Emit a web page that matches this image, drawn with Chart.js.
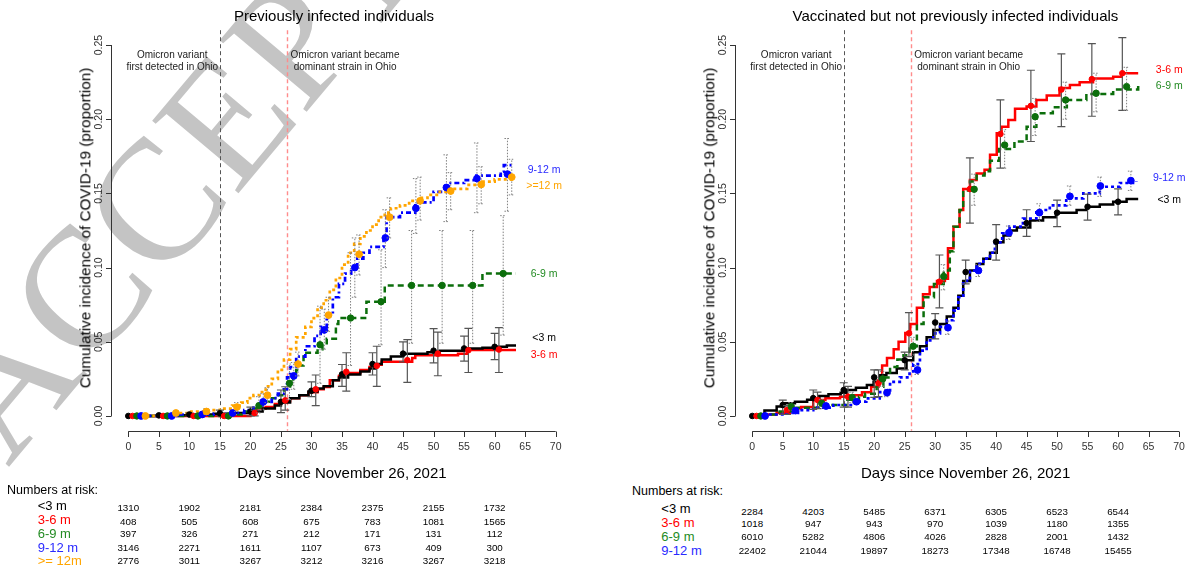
<!DOCTYPE html>
<html>
<head>
<meta charset="utf-8">
<title>Cumulative incidence of COVID-19</title>
<script src="https://cdn.jsdelivr.net/npm/chart.js@4.4.1/dist/chart.umd.min.js"></script>
<style>
  html, body { margin: 0; padding: 0; background: #fff; }
  body { position: relative; width: 1190px; height: 565px; overflow: hidden;
         font-family: "Liberation Sans", Arial, sans-serif; color: #000; }
  #wm { position: absolute; left: 0; top: 0; z-index: 0; }
  canvas { position: absolute; top: 0; z-index: 1; }
  #cPI { left: 0; }
  #cVX { left: 620px; }
  .lbl { position: absolute; z-index: 2; white-space: nowrap; line-height: 1; transform: translate(-50%, -50%); }
  .title { font-size: 15px; }
  .ytitle { font-size: 15.3px; transform: translate(-50%, -50%) rotate(-90deg); }
  .xtitle { font-size: 15px; }
  .note { font-size: 10px; color: #222; }
  .end { font-size: 10.5px; }
  .risk-h { font-size: 12.5px; transform: translate(0, -50%); }
  .risk-g { font-size: 13px; transform: translate(0, -50%); }
  .risk-n { font-size: 9.8px; }
</style>
</head>
<body>
<svg id="wm" width="1190" height="565">
  <text x="8" y="468" transform="rotate(-50 8 468)" font-family="Liberation Serif" font-size="172" fill="#c4c4c4">ACCEPTED</text>
</svg>
<canvas id="cPI" width="595" height="470"></canvas>
<canvas id="cVX" width="600" height="470"></canvas>
<script>
// axis ticks and reference lines
const xTicks = [0, 5, 10, 15, 20, 25, 30, 35, 40, 45, 50, 55, 60, 65, 70];
const yTicks = [0, 0.05, 0.10, 0.15, 0.20, 0.25];
const yTickLabels = ['0.00', '0.05', '0.10', '0.15', '0.20', '0.25'];
const eventDays = [15, 26];
const riskDays = [0, 10, 20, 30, 40, 50, 60];

// ---- Previously infected individuals ----
const piLt3StepX = [0, 5, 10, 14, 17, 20, 22, 24, 25, 26.5, 28, 29.5, 31, 32, 33.5, 34.5, 36, 38, 39.5, 40.5, 41.5, 43, 45, 49, 51, 55, 58, 60, 62, 63.5];
const piLt3StepY = [0, 0.0004, 0.001, 0.0015, 0.002, 0.003, 0.005, 0.007, 0.009, 0.012, 0.014, 0.0165, 0.0185, 0.020, 0.024, 0.026, 0.028, 0.030, 0.032, 0.035, 0.038, 0.040, 0.042, 0.043, 0.044, 0.0455, 0.046, 0.0466, 0.0475, 0.0475];
const piLt3PtX = [0, 5, 10, 15, 20, 25, 30, 35, 40, 45, 50, 55, 60];
const piLt3PtY = [0, 0.0004, 0.001, 0.0018, 0.003, 0.0095, 0.017, 0.028, 0.035, 0.042, 0.044, 0.0455, 0.0466];
const piLt3Lo = [0, 0, 0, 0, 0, 0.0022, 0.013, 0.020, 0.0276, 0.0365, 0.0358, 0.037, 0.038];
const piLt3Hi = [0, 0.001, 0.002, 0.004, 0.006, 0.0175, 0.023, 0.0347, 0.0426, 0.050, 0.0589, 0.0538, 0.0556];

const pi36StepX = [0, 20, 21, 22.5, 24, 25, 26.5, 28, 29.5, 31, 32, 33, 34.5, 35.5, 38, 39.5, 40.5, 41.5, 46.5, 47, 54, 55.5, 63.5];
const pi36StepY = [0, 0.003, 0.005, 0.006, 0.008, 0.010, 0.012, 0.014, 0.016, 0.018, 0.0195, 0.024, 0.027, 0.029, 0.031, 0.033, 0.0345, 0.0365, 0.039, 0.041, 0.042, 0.0445, 0.0445];
const pi36PtX = [0.7, 5.7, 10.7, 15.7, 20.7, 25.7, 30.7, 35.7, 40.7, 45.7, 50.7, 55.7, 60.7];
const pi36PtY = [0, 0, 0, 0, 0.002, 0.0105, 0.018, 0.0298, 0.0338, 0.0376, 0.042, 0.0443, 0.0448];
const pi36Lo = [0, 0, 0, 0, 0, 0.004, 0.007, 0.0168, 0.020, 0.0226, 0.0271, 0.0293, 0.0293];
const pi36Hi = [0, 0, 0, 0, 0.004, 0.0197, 0.0276, 0.0426, 0.047, 0.0515, 0.0565, 0.059, 0.0596];

const pi69StepX = [0, 16, 19, 20.5, 21.5, 22.5, 23.5, 24.5, 25.5, 26.5, 27, 27.5, 28, 28.7, 31, 31.8, 32.5, 34, 34.4, 39, 42, 58, 63.5];
const pi69StepY = [0, 0.001, 0.003, 0.005, 0.0075, 0.0095, 0.012, 0.014, 0.018, 0.022, 0.026, 0.031, 0.034, 0.0426, 0.045, 0.048, 0.052, 0.062, 0.066, 0.077, 0.088, 0.096, 0.096];
const pi69PtX = [1.4, 6.4, 11.4, 16.4, 21.4, 26.4, 31.4, 36.4, 41.4, 46.4, 51.4, 56.4, 61.4];
const pi69PtY = [0, 0, 0, 0, 0.007, 0.022, 0.048, 0.066, 0.077, 0.088, 0.088, 0.088, 0.096];
const pi69Lo = [0, 0, 0, 0, 0.002, 0.011, 0.022, 0.034, 0.048, 0.049, 0.049, 0.049, 0.0545];
const pi69Hi = [0, 0, 0.001, 0.002, 0.013, 0.035, 0.074, 0.110, 0.112, 0.125, 0.125, 0.125, 0.135];

const pi912StepX = [0, 8, 14, 17, 19, 20.5, 22, 23.5, 24.5, 25.5, 26, 26.5, 27.5, 29, 30.5, 31.5, 32.5, 33.5, 34.5, 35.5, 36.5, 37.5, 38.5, 39.5, 41.8, 42.3, 44.5, 47, 50, 52.5, 55, 57, 61, 61.5, 63];
const pi912StepY = [0, 0.001, 0.0015, 0.002, 0.004, 0.007, 0.0095, 0.012, 0.015, 0.018, 0.026, 0.033, 0.040, 0.047, 0.054, 0.060, 0.068, 0.080, 0.089, 0.096, 0.100, 0.106, 0.110, 0.114, 0.119, 0.134, 0.137, 0.144, 0.151, 0.157, 0.159, 0.162, 0.1646, 0.169, 0.169];
const pi912PtX = [2.1, 7.1, 12.1, 17.1, 22.1, 27.1, 32.1, 37.1, 42.1, 47.1, 52.1, 57.1, 62.1];
const pi912PtY = [0, 0, 0.001, 0.002, 0.0095, 0.027, 0.058, 0.100, 0.120, 0.140, 0.154, 0.160, 0.163];
const pi912Lo = [0, 0, 0, 0, 0.004, 0.018, 0.045, 0.080, 0.100, 0.123, 0.131, 0.137, 0.138];
const pi912Hi = [0, 0.001, 0.002, 0.004, 0.015, 0.036, 0.072, 0.120, 0.139, 0.160, 0.176, 0.184, 0.187];

const pi12StepX = [0, 5, 7, 10, 13, 15, 17, 18.5, 19.5, 20.5, 21.5, 22.5, 23.5, 24.5, 25.5, 26.5, 27.5, 29, 30, 31, 32, 33, 34, 35, 36, 37, 38, 39, 40, 41, 42, 43, 44.5, 46, 47.5, 49, 51, 53, 55.5, 58, 60, 63];
const pi12StepY = [0, 0.001, 0.002, 0.003, 0.004, 0.005, 0.007, 0.009, 0.012, 0.014, 0.016, 0.020, 0.025, 0.031, 0.038, 0.045, 0.053, 0.060, 0.066, 0.073, 0.078, 0.085, 0.093, 0.102, 0.110, 0.116, 0.121, 0.125, 0.129, 0.134, 0.137, 0.140, 0.142, 0.145, 0.147, 0.149, 0.151, 0.153, 0.1557, 0.158, 0.1594, 0.161];
const pi12PtX = [2.8, 7.8, 12.8, 17.8, 22.8, 27.8, 32.8, 37.8, 42.8, 47.8, 52.8, 57.8, 62.8];
const pi12PtY = [0, 0.002, 0.003, 0.006, 0.014, 0.035, 0.068, 0.109, 0.134, 0.145, 0.1516, 0.156, 0.161];
const pi12Lo = [0, 0, 0.001, 0.003, 0.009, 0.027, 0.057, 0.095, 0.120, 0.132, 0.139, 0.143, 0.149];
const pi12Hi = [0, 0.003, 0.005, 0.009, 0.019, 0.043, 0.080, 0.122, 0.147, 0.161, 0.164, 0.168, 0.173];

const piRiskLt3 = [1310, 1902, 2181, 2384, 2375, 2155, 1732];
const piRisk36 = [408, 505, 608, 675, 783, 1081, 1565];
const piRisk69 = [397, 326, 271, 212, 171, 131, 112];
const piRisk912 = [3146, 2271, 1611, 1107, 673, 409, 300];
const piRisk12 = [2776, 3011, 3267, 3212, 3216, 3267, 3218];

// ---- Vaccinated but not previously infected individuals ----
const vxLt3StepX = [0, 2, 4, 5, 7, 9, 11, 12.5, 14.5, 15.5, 17, 18.8, 19.9, 21, 22, 23.7, 25.3, 26.4, 27.5, 28.6, 29.7, 30.8, 31.9, 33, 33.8, 34.6, 35.7, 36.8, 37.9, 39, 40.1, 41.2, 42.3, 43.4, 45.6, 47.7, 49.8, 53.2, 54.8, 57, 59.2, 61.4, 63.3];
const vxLt3StepY = [0, 0.0036, 0.0063, 0.0085, 0.0096, 0.011, 0.0134, 0.0146, 0.0157, 0.0175, 0.019, 0.0208, 0.023, 0.0275, 0.029, 0.032, 0.0376, 0.043, 0.047, 0.053, 0.058, 0.062, 0.067, 0.073, 0.081, 0.091, 0.098, 0.1025, 0.106, 0.110, 0.117, 0.1217, 0.125, 0.127, 0.1317, 0.134, 0.137, 0.1388, 0.141, 0.1425, 0.1444, 0.1462, 0.1462];
const vxLt3PtX = [0, 5, 10, 15, 20, 25, 30, 35, 40, 45, 50, 55, 60];
const vxLt3PtY = [0, 0.0074, 0.012, 0.0175, 0.026, 0.0376, 0.063, 0.097, 0.1175, 0.130, 0.137, 0.141, 0.1444];
const vxLt3Lo = [0, 0.001, 0.0045, 0.006, 0.0125, 0.031, 0.052, 0.089, 0.105, 0.121, 0.1276, 0.132, 0.1355];
const vxLt3Hi = [0, 0.0107, 0.0175, 0.0224, 0.031, 0.043, 0.069, 0.105, 0.129, 0.139, 0.1455, 0.1495, 0.153];

const vx36StepX = [0, 1, 4, 6.2, 8, 10, 12, 14.4, 16.6, 18, 19.5, 20.7, 21.3, 22.1, 23.2, 24, 25.1, 25.9, 27, 28, 29.1, 30.3, 31.6, 32.1, 33, 34, 34.6, 35.7, 36.8, 38.1, 39, 40.1, 40.9, 42, 43.1, 45, 46.6, 48.3, 50.4, 52.1, 53.7, 55.9, 59.2, 60.6, 63.3];
const vx36StepY = [0, 0.001, 0.0022, 0.005, 0.006, 0.0108, 0.012, 0.013, 0.014, 0.016, 0.0197, 0.024, 0.034, 0.039, 0.045, 0.050, 0.056, 0.062, 0.073, 0.082, 0.087, 0.091, 0.0925, 0.113, 0.1276, 0.1388, 0.153, 0.159, 0.1635, 0.166, 0.176, 0.1905, 0.195, 0.1995, 0.207, 0.2085, 0.213, 0.216, 0.221, 0.223, 0.225, 0.2275, 0.2286, 0.231, 0.231];
const vx36PtX = [0.7, 5.7, 10.7, 15.7, 20.7, 25.7, 30.7, 35.7, 40.7, 45.7, 50.7, 55.7, 60.7];
const vx36PtY = [0, 0.004, 0.0108, 0.013, 0.022, 0.0557, 0.0905, 0.153, 0.190, 0.209, 0.220, 0.227, 0.231];
const vx36Lo = [0, 0.001, 0.005, 0.006, 0.013, 0.040, 0.0728, 0.130, 0.167, 0.185, 0.195, 0.202, 0.206];
const vx36Hi = [0, 0.007, 0.016, 0.020, 0.031, 0.0696, 0.1085, 0.174, 0.213, 0.233, 0.244, 0.251, 0.255];

const vx69StepX = [0, 1.5, 4.5, 7.3, 11.6, 15.6, 17.5, 18.5, 20.4, 21.5, 22.6, 23.8, 24.8, 25.8, 27, 28.1, 29.8, 31.4, 32.4, 33, 34, 34.6, 35.7, 36.8, 38.1, 39, 40.5, 43, 45, 46.6, 49.3, 51.6, 54.8, 59.2, 63.3];
const vx69StepY = [0, 0.001, 0.003, 0.0056, 0.0074, 0.011, 0.013, 0.015, 0.0197, 0.026, 0.033, 0.038, 0.041, 0.047, 0.062, 0.080, 0.089, 0.098, 0.111, 0.1276, 0.1388, 0.152, 0.158, 0.162, 0.165, 0.172, 0.180, 0.185, 0.195, 0.204, 0.208, 0.213, 0.217, 0.220, 0.223];
const vx69PtX = [1.4, 6.4, 11.4, 16.4, 21.4, 26.4, 31.4, 36.4, 41.4, 46.4, 51.4, 56.4, 61.4];
const vx69PtY = [0, 0.0063, 0.0085, 0.0125, 0.025, 0.047, 0.094, 0.1528, 0.1826, 0.2017, 0.213, 0.2175, 0.222];
const vx69Lo = [0, 0.004, 0.006, 0.009, 0.020, 0.041, 0.085, 0.142, 0.167, 0.189, 0.200, 0.205, 0.206];
const vx69Hi = [0, 0.009, 0.011, 0.016, 0.030, 0.053, 0.102, 0.163, 0.193, 0.214, 0.225, 0.231, 0.235];

const vx912StepX = [0, 2.5, 5.2, 7.5, 10, 13.3, 16.6, 18.7, 20.9, 22.6, 24.2, 25.8, 26.4, 27.5, 28.6, 29.7, 30.8, 31.9, 33, 33.8, 34.6, 35.7, 36.8, 37.9, 39, 39.8, 41, 42.2, 44.4, 46.6, 48.8, 51.5, 54.3, 57, 60.3, 63];
const vx912StepY = [0, 0.001, 0.002, 0.004, 0.0056, 0.0074, 0.0096, 0.0119, 0.016, 0.023, 0.026, 0.030, 0.035, 0.044, 0.051, 0.0556, 0.060, 0.0645, 0.071, 0.080, 0.091, 0.098, 0.1025, 0.106, 0.110, 0.117, 0.123, 0.1276, 0.133, 0.1388, 0.142, 0.1466, 0.150, 0.1545, 0.157, 0.158];
const vx912PtX = [2.1, 7.1, 12.1, 17.1, 22.1, 27.1, 32.1, 37.1, 42.1, 47.1, 52.1, 57.1, 62.1];
const vx912PtY = [0, 0.0036, 0.0067, 0.0096, 0.0157, 0.031, 0.0595, 0.098, 0.1235, 0.137, 0.148, 0.155, 0.1586];
const vx912Lo = [0, 0.002, 0.005, 0.008, 0.013, 0.028, 0.055, 0.094, 0.119, 0.131, 0.142, 0.148, 0.152];
const vx912Hi = [0, 0.005, 0.0085, 0.0115, 0.018, 0.034, 0.064, 0.102, 0.128, 0.143, 0.155, 0.161, 0.165];

const vxRiskLt3 = [2284, 4203, 5485, 6371, 6305, 6523, 6544];
const vxRisk36 = [1018, 947, 943, 970, 1039, 1180, 1355];
const vxRisk69 = [6010, 5282, 4806, 4026, 2828, 2001, 1432];
const vxRisk912 = [22402, 21044, 19897, 18273, 17348, 16748, 15455];

// colours
const BLACK = '#000000', RED = '#ff0000', GREEN = '#0b6e0b', BLUE = '#0000ff', ORANGE = '#ffa500';
const GREEN_TXT = '#238b23', BLUE_TXT = '#2a2aff';

const piSeries = [
  { name: '<3 m', color: BLACK, txt: BLACK, dash: [], width: 2.5, r: 2.8, solidBars: true, lineOrder: 8,
    stepX: piLt3StepX, stepY: piLt3StepY, ptX: piLt3PtX, ptY: piLt3PtY, lo: piLt3Lo, hi: piLt3Hi, risk: piRiskLt3, labelVal: 0.0532 },
  { name: '3-6 m', color: RED, txt: RED, dash: [], width: 2.5, r: 2.8, solidBars: true, lineOrder: 9,
    stepX: pi36StepX, stepY: pi36StepY, ptX: pi36PtX, ptY: pi36PtY, lo: pi36Lo, hi: pi36Hi, risk: piRisk36, labelVal: 0.0418 },
  { name: '6-9 m', color: GREEN, txt: GREEN_TXT, dash: [6, 4], width: 2.5, r: 3.2, solidBars: false, lineOrder: 7,
    stepX: pi69StepX, stepY: pi69StepY, ptX: pi69PtX, ptY: pi69PtY, lo: pi69Lo, hi: pi69Hi, risk: piRisk69, labelVal: 0.0964 },
  { name: '9-12 m', color: BLUE, txt: BLUE_TXT, dash: [5, 3, 2, 3], width: 2.7, r: 3.4, solidBars: false, lineOrder: 6,
    stepX: pi912StepX, stepY: pi912StepY, ptX: pi912PtX, ptY: pi912PtY, lo: pi912Lo, hi: pi912Hi, risk: piRisk912, labelVal: 0.1662 },
  { name: '>=12 m', rowName: '>= 12m', color: ORANGE, txt: ORANGE, dash: [3, 3], width: 2.7, r: 3.4, solidBars: false, lineOrder: 5,
    stepX: pi12StepX, stepY: pi12StepY, ptX: pi12PtX, ptY: pi12PtY, lo: pi12Lo, hi: pi12Hi, risk: piRisk12, labelVal: 0.1557 }
];

const vxSeries = [
  { name: '<3 m', color: BLACK, txt: BLACK, dash: [], width: 2.5, r: 2.8, solidBars: true, lineOrder: 8,
    stepX: vxLt3StepX, stepY: vxLt3StepY, ptX: vxLt3PtX, ptY: vxLt3PtY, lo: vxLt3Lo, hi: vxLt3Hi, risk: vxRiskLt3, labelVal: 0.1462 },
  { name: '3-6 m', color: RED, txt: RED, dash: [], width: 2.5, r: 2.8, solidBars: true, lineOrder: 9,
    stepX: vx36StepX, stepY: vx36StepY, ptX: vx36PtX, ptY: vx36PtY, lo: vx36Lo, hi: vx36Hi, risk: vxRisk36, labelVal: 0.2338 },
  { name: '6-9 m', color: GREEN, txt: GREEN_TXT, dash: [6, 4], width: 2.5, r: 3.2, solidBars: false, lineOrder: 7,
    stepX: vx69StepX, stepY: vx69StepY, ptX: vx69PtX, ptY: vx69PtY, lo: vx69Lo, hi: vx69Hi, risk: vxRisk69, labelVal: 0.2230 },
  { name: '9-12 m', color: BLUE, txt: BLUE_TXT, dash: [3, 3], width: 2.7, r: 3.4, solidBars: false, lineOrder: 6,
    stepX: vx912StepX, stepY: vx912StepY, ptX: vx912PtX, ptY: vx912PtY, lo: vx912Lo, hi: vx912Hi, risk: vxRisk912, labelVal: 0.1613 }
];

// draws R-style axes, the two reference lines and the error bars
const rStyle = {
  id: 'rStyle',
  beforeDatasetsDraw(chart) {
    const { ctx, chartArea, scales: { x, y } } = chart;
    ctx.save();
    eventDays.forEach((d, i) => {
      const px = Math.round(x.getPixelForValue(d)) + 0.5;
      ctx.beginPath();
      ctx.setLineDash([4, 3]);
      ctx.strokeStyle = i === 0 ? '#555' : '#ff8c8c';
      ctx.lineWidth = i === 0 ? 1 : 1.4;
      ctx.moveTo(px, chartArea.top);
      ctx.lineTo(px, chartArea.bottom);
      ctx.stroke();
    });
    ctx.setLineDash([]);
    ctx.strokeStyle = '#333';
    ctx.fillStyle = '#333';
    ctx.lineWidth = 1;

    const y0 = Math.round(chartArea.bottom) + 0.5;
    ctx.beginPath();
    ctx.moveTo(x.getPixelForValue(xTicks[0]), y0);
    ctx.lineTo(x.getPixelForValue(xTicks[xTicks.length - 1]), y0);
    xTicks.forEach(t => {
      const px = Math.round(x.getPixelForValue(t)) + 0.5;
      ctx.moveTo(px, y0);
      ctx.lineTo(px, y0 + 5.5);
    });
    ctx.stroke();
    ctx.font = '10.5px "Liberation Sans", Arial, sans-serif';
    ctx.textAlign = 'center';
    ctx.textBaseline = 'middle';
    xTicks.forEach(t => ctx.fillText(String(t), x.getPixelForValue(t), y0 + 16));

    const x0 = Math.round(chartArea.left) + 0.5;
    ctx.beginPath();
    ctx.moveTo(x0, y.getPixelForValue(yTicks[0]));
    ctx.lineTo(x0, y.getPixelForValue(yTicks[yTicks.length - 1]));
    yTicks.forEach(t => {
      const py = Math.round(y.getPixelForValue(t)) + 0.5;
      ctx.moveTo(x0, py);
      ctx.lineTo(x0 - 5.5, py);
    });
    ctx.stroke();
    yTicks.forEach((t, i) => {
      ctx.save();
      ctx.translate(x0 - 12, y.getPixelForValue(t));
      ctx.rotate(-Math.PI / 2);
      ctx.fillText(yTickLabels[i], 0, 0);
      ctx.restore();
    });
    ctx.restore();
  },
  beforeDatasetDraw(chart, args) {
    const ds = chart.data.datasets[args.index];
    if (!ds.errLo) return;
    const { ctx, scales: { x, y } } = chart;
    ctx.save();
    ctx.strokeStyle = ds.solidBars ? '#555' : '#808080';
    ctx.lineWidth = ds.solidBars ? 1.2 : 1;
    ctx.setLineDash(ds.solidBars ? [] : [1.5, 1.5]);
    const cap = ds.solidBars ? 4 : 3;
    ds.errLo.forEach((lo, i) => {
      const hi = ds.errHi[i];
      if (hi - lo <= 0) return;
      const px = x.getPixelForValue(ds.data[i].x);
      const pl = y.getPixelForValue(lo);
      const ph = y.getPixelForValue(hi);
      ctx.beginPath();
      ctx.moveTo(px, pl); ctx.lineTo(px, ph);
      ctx.moveTo(px - cap, pl); ctx.lineTo(px + cap, pl);
      ctx.moveTo(px - cap, ph); ctx.lineTo(px + cap, ph);
      ctx.stroke();
    });
    ctx.restore();
  }
};

function buildChart(canvasId, seriesList, padding) {
  const datasets = [];
  seriesList.forEach((s, k) => {
    datasets.push({
      data: s.stepX.map((d, i) => ({ x: d, y: s.stepY[i] })),
      borderColor: s.color,
      borderWidth: s.width,
      borderDash: s.dash,
      borderCapStyle: 'butt',
      stepped: true,
      pointRadius: 0,
      fill: false,
      order: s.lineOrder
    });
    datasets.push({
      data: s.ptX.map((d, i) => ({ x: d, y: s.ptY[i] })),
      showLine: false,
      pointRadius: s.r,
      pointBackgroundColor: s.color,
      pointBorderColor: s.color,
      pointBorderWidth: 1,
      errLo: s.lo,
      errHi: s.hi,
      solidBars: s.solidBars,
      order: 4 - k * 0.1
    });
  });
  return new Chart(document.getElementById(canvasId), {
    type: 'line',
    data: { datasets },
    options: {
      responsive: false,
      animation: false,
      devicePixelRatio: 1,
      events: [],
      layout: { padding },
      scales: {
        x: { type: 'linear', min: -2.8, max: 72.8, display: false },
        y: { type: 'linear', min: -0.01, max: 0.26, display: false }
      },
      plugins: { legend: { display: false }, tooltip: { enabled: false } }
    },
    plugins: [rStyle]
  });
}

function put(text, cls, left, top, color) {
  const el = document.createElement('div');
  el.className = 'lbl ' + cls;
  el.textContent = text;
  el.style.left = left + 'px';
  el.style.top = top + 'px';
  if (color) el.style.color = color;
  document.body.appendChild(el);
  return el;
}

function decorate(chart, offsetX, series, cfg) {
  const x = v => offsetX + chart.scales.x.getPixelForValue(v);
  const y = v => chart.scales.y.getPixelForValue(v);
  put(cfg.title, 'title', cfg.titleX, 15);
  put('Cumulative incidence of COVID-19 (proportion)', 'ytitle', offsetX + chart.chartArea.left - 26, 228);
  put('Days since November 26, 2021', 'xtitle', x(35), 472);
  put('Omicron variant', 'note', x(7.2), 54.5);
  put('first detected in Ohio', 'note', x(7.2), 66.8);
  put('Omicron variant became', 'note', x(35.5), 54.5);
  put('dominant strain in Ohio', 'note', x(35.5), 66.8);
  series.forEach(s => put(s.name, 'end', x(cfg.labelDay), y(s.labelVal), s.txt));

  put('Numbers at risk:', 'risk-h', cfg.headX, cfg.headY);
  series.forEach((s, r) => {
    put(s.rowName || s.name, 'risk-g', cfg.groupX, cfg.groupY[r], s.txt);
    s.risk.forEach((n, c) => put(String(n), 'risk-n', x(riskDays[c]), cfg.numY[r]));
  });
}

const piChart = buildChart('cPI', piSeries, { left: 111.2, right: 22.2, top: 30.2, bottom: 39.2 });
const vxChart = buildChart('cVX', vxSeries, { left: 115.2, right: 23.9, top: 30.2, bottom: 39.2 });

decorate(piChart, 0, piSeries, {
  title: 'Previously infected individuals', titleX: 334, labelDay: 68.1,
  headX: 7, headY: 490, groupX: 37.7,
  groupY: [504.5, 519.3, 532.7, 546.7, 560], numY: [508.3, 521.7, 534.3, 547.7, 560.7]
});
decorate(vxChart, 620, vxSeries, {
  title: 'Vaccinated but not previously infected individuals', titleX: 955.5, labelDay: 68.4,
  headX: 632, headY: 491, groupX: 661.3,
  groupY: [507.7, 522.3, 535.7, 550], numY: [511.7, 524.3, 537.3, 550.7]
});
</script>
</body>
</html>
